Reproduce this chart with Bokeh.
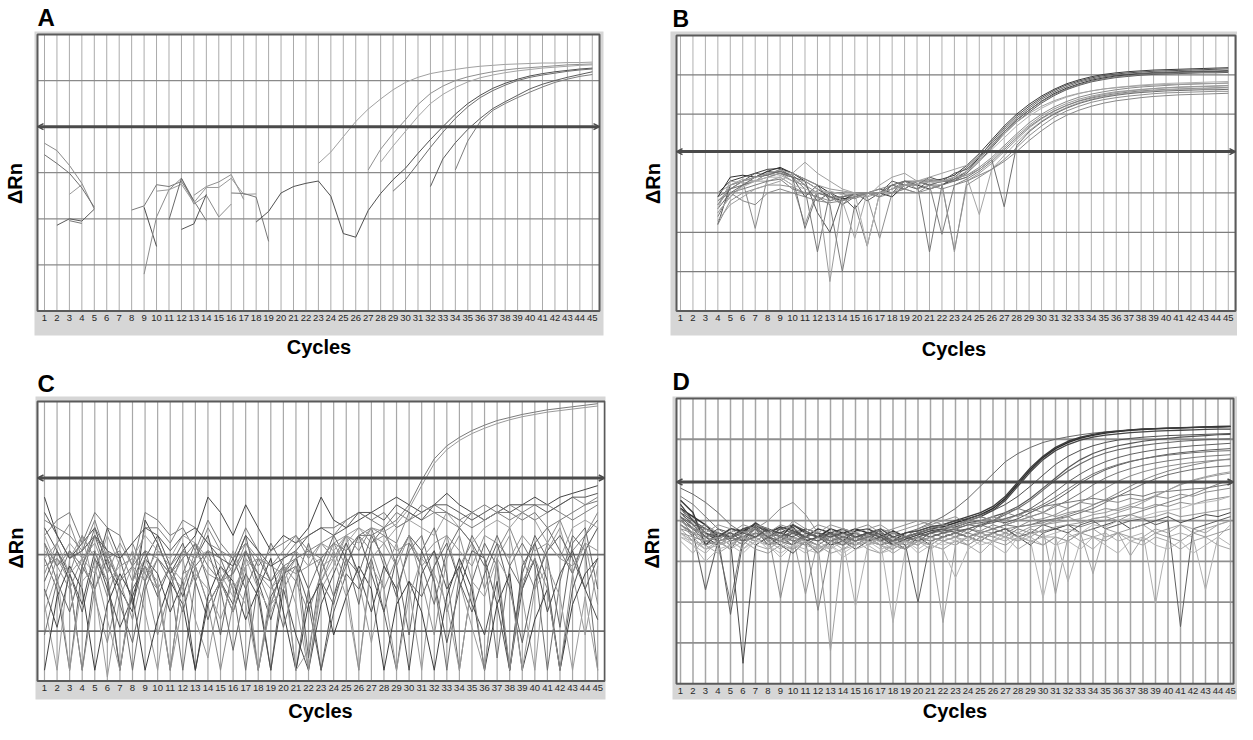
from bokeh.plotting import figure
from bokeh.models import Range1d, LinearAxis, FixedTicker, Arrow, OpenHead, ColumnDataSource
from bokeh.layouts import row, column
from bokeh.embed import file_html
from bokeh.resources import INLINE

FONT = "Liberation Sans"
BAND = "#d6d6d6"

CYCLES = list(range(1, 46))
TICK_LABELS = [str(c) for c in CYCLES]
Y_LABEL = "ΔRn"
X_LABEL = "Cycles"
PANEL_LETTERS = ["A", "B", "C", "D"]

# ---------------- Panel A (y in grid rows) ----------------
A_THRESHOLD = 4.0
A_GRID_ROWS = [1, 2, 3, 5]
A_STARTS = [1, 1, 2, 3, 3, 8, 9, 9, 10, 11, 12, 13, 16, 18, 29, 23, 27, 28, 32, 34]
A1 = [3.64, 3.48, 3.16, 2.77, 2.21]
A2 = [3.39, 3.20, 2.99, 2.67, 2.25]
A3 = [1.86, 2.00, 1.95, 2.21]
A4 = [2.53, 2.74]
A5 = [1.96, 1.90]
A6 = [2.19, 2.28, 2.74, 2.70, 2.81, 2.39, 1.96]
A7 = [2.25, 1.40]
A8 = [0.80, 2.04, 2.63, 2.88, 2.32, 2.51, 2.04, 2.32]
A9 = [2.60, 2.63, 2.75, 2.35, 2.68, 2.68, 2.88, 2.53, 2.54]
A10 = [1.98, 2.88, 2.39]
A11 = [1.77, 1.89, 2.53]
A12 = [2.51, 2.70, 2.80, 2.96, 2.42]
A13 = [2.56, 2.55, 2.47, 1.51]
A14 = [1.93, 2.16, 2.56, 2.70, 2.77, 2.82, 2.49, 1.68, 1.60, 2.18, 2.55, 2.85, 3.10, 3.42,
       3.72, 4.00, 4.27, 4.50, 4.68, 4.83, 4.94, 5.03, 5.10, 5.15, 5.19, 5.22, 5.25, 5.27]
A15 = [2.60, 2.85, 3.20, 3.55, 3.88, 4.18, 4.43, 4.63, 4.78, 4.90, 5.00, 5.07, 5.12, 5.16, 5.20, 5.23, 5.25]
A16 = [3.20, 3.45, 3.78, 4.11, 4.38, 4.60, 4.80, 4.96, 5.07, 5.15, 5.20, 5.24, 5.28, 5.31, 5.33,
       5.35, 5.36, 5.37, 5.38, 5.38, 5.39, 5.39, 5.40]
A17 = [3.06, 3.51, 3.85, 4.15, 4.48, 4.72, 4.88, 5.00, 5.08, 5.14, 5.19, 5.23, 5.26, 5.28, 5.30, 5.32, 5.34, 5.35, 5.36]
A18 = [3.23, 3.58, 3.90, 4.22, 4.50, 4.70, 4.85, 4.97, 5.06, 5.12, 5.17, 5.21, 5.24, 5.27, 5.29, 5.31, 5.33, 5.34]
A19 = [2.70, 3.30, 3.65, 3.94, 4.18, 4.39, 4.54, 4.68, 4.82, 4.92, 5.00, 5.07, 5.13, 5.19]
A20 = [3.06, 3.69, 4.11, 4.35, 4.50, 4.63, 4.75, 4.86, 4.96, 5.03, 5.09, 5.13]
A_CURVES = [A1, A2, A3, A4, A5, A6, A7, A8, A9, A10, A11, A12, A13, A14, A15, A16, A17, A18, A19, A20]
A_COLORS = ["#8a8a8a", "#6f6f6f", "#5a5a5a", "#9a9a9a", "#777777", "#7a7a7a", "#4f4f4f", "#8c8c8c",
            "#999999", "#6a6a6a", "#555555", "#909090", "#777777", "#505050", "#6e6e6e", "#a0a0a0",
            "#8f8f8f", "#a5a5a5", "#5c5c5c", "#7d7d7d"]

# ---------------- Panel B (cycles 4..45) ----------------
B_THRESHOLD = 4.05
B_GRID_ROWS = [1, 2, 3, 5, 6]
B1 = [3.0, 3.3, 3.4, 3.5, 3.6, 3.62, 3.5, 3.3, 3.1, 2.9, 2.8, 3.0, 3.0, 3.0, 3.1, 3.2, 3.3, 3.3, 3.35, 3.45,
      3.7, 4.0, 4.35, 4.7, 5.0, 5.25, 5.46, 5.63, 5.77, 5.87, 5.95, 6.01, 6.05, 6.08, 6.1, 6.12, 6.13, 6.14, 6.15, 6.16, 6.17, 6.18]
B2 = [2.2, 3.2, 3.3, 3.4, 3.55, 3.5, 3.4, 2.9, 3.2, 2.8, 2.9, 2.6, 3.0, 3.1, 3.0, 3.3, 3.2, 3.4, 3.3, 3.5,
      3.6, 3.9, 4.3, 4.65, 4.95, 5.2, 5.42, 5.6, 5.74, 5.84, 5.92, 5.98, 6.02, 6.05, 6.07, 6.09, 6.1, 6.11, 6.12, 6.13, 6.14, 6.15]
B3 = [2.6, 3.0, 3.2, 3.3, 3.5, 3.55, 3.45, 3.2, 2.8, 3.0, 2.7, 2.9, 3.0, 2.9, 3.2, 3.1, 3.3, 3.2, 3.2, 3.4,
      3.65, 3.95, 4.25, 4.6, 4.9, 5.15, 5.38, 5.56, 5.7, 5.81, 5.89, 5.95, 5.99, 6.02, 6.04, 6.06, 6.07, 6.08, 6.09, 6.1, 6.1, 6.11]
B4 = [2.9, 3.4, 3.45, 3.4, 3.55, 3.65, 3.5, 3.35, 3.2, 3.0, 2.85, 2.9, 3.0, 3.0, 2.9, 3.2, 3.2, 3.1, 3.2, 3.35,
      3.55, 3.9, 4.2, 4.55, 4.85, 5.1, 5.33, 5.52, 5.66, 5.77, 5.86, 5.92, 5.97, 6.0, 6.02, 6.04, 6.05, 6.06, 6.07, 6.08, 6.08, 6.09]
B5 = [2.7, 3.1, 3.3, 3.5, 3.45, 3.6, 3.4, 3.3, 2.5, 2.0, 2.9, 3.0, 2.8, 3.0, 3.3, 3.2, 3.1, 3.3, 3.3, 3.3,
      3.5, 3.8, 4.15, 4.5, 4.8, 5.05, 5.28, 5.47, 5.62, 5.73, 5.82, 5.88, 5.93, 5.96, 5.99, 6.01, 6.02, 6.03, 6.04, 6.05, 6.05, 6.06]
B6 = [2.5, 2.9, 3.2, 3.3, 3.4, 3.5, 3.4, 3.1, 1.5, 3.0, 3.0, 2.85, 3.0, 3.0, 3.1, 3.3, 3.25, 1.5, 3.2, 3.3,
      3.55, 3.85, 4.2, 4.55, 4.85, 5.1, 5.32, 5.5, 5.64, 5.75, 5.84, 5.9, 5.95, 5.98, 6.01, 6.03, 6.04, 6.05, 6.06, 6.07, 6.07, 6.08]
B7 = [2.8, 3.1, 3.3, 2.1, 3.4, 3.5, 3.3, 3.2, 3.0, 2.9, 2.7, 3.0, 3.0, 3.1, 3.2, 3.3, 3.1, 3.2, 3.3, 3.35,
      3.45, 3.65, 3.9, 4.2, 4.5, 4.78, 5.0, 5.18, 5.32, 5.43, 5.51, 5.57, 5.62, 5.66, 5.69, 5.71, 5.73, 5.75, 5.76, 5.77, 5.78, 5.79]
B8 = [3.0, 3.2, 3.35, 3.3, 3.3, 3.4, 3.2, 2.2, 3.1, 0.75, 2.8, 2.9, 2.9, 3.0, 3.1, 3.2, 3.2, 3.35, 3.25, 1.5,
      3.3, 3.5, 3.75, 4.05, 4.35, 4.65, 4.88, 5.07, 5.22, 5.34, 5.43, 5.5, 5.55, 5.59, 5.62, 5.65, 5.67, 5.69, 5.7, 5.71, 5.72, 5.73]
B9 = [2.4, 3.0, 3.1, 3.2, 3.3, 3.35, 3.1, 3.0, 2.9, 2.7, 1.0, 2.7, 1.65, 3.0, 3.2, 3.1, 3.3, 3.2, 1.95, 3.2,
      3.35, 3.55, 3.8, 4.1, 4.4, 4.68, 4.9, 5.08, 5.22, 5.33, 5.41, 5.47, 5.52, 5.56, 5.59, 5.61, 5.63, 5.64, 5.65, 5.66, 5.67, 5.68]
B10 = [2.6, 3.3, 3.25, 3.3, 3.5, 3.45, 3.3, 3.3, 3.1, 3.0, 2.8, 1.85, 3.0, 3.0, 3.0, 3.2, 3.2, 3.3, 3.3, 3.3,
       3.4, 2.45, 3.6, 3.95, 4.28, 4.58, 4.82, 5.02, 5.17, 5.29, 5.38, 5.45, 5.5, 5.54, 5.57, 5.6, 5.62, 5.63, 5.64, 5.65, 5.66, 5.67]
B11 = [2.2, 2.8, 3.0, 3.1, 3.2, 3.2, 3.15, 3.0, 2.9, 2.8, 2.9, 3.0, 2.9, 1.85, 3.0, 3.1, 3.0, 3.1, 3.2, 1.55,
       3.2, 3.4, 3.6, 3.85, 4.15, 4.45, 4.7, 4.92, 5.08, 5.2, 5.3, 5.37, 5.42, 5.46, 5.49, 5.52, 5.54, 5.55, 5.56, 5.57, 5.58, 5.58]
B12 = [2.9, 3.1, 3.2, 3.4, 3.45, 3.55, 3.4, 2.1, 3.0, 2.9, 2.9, 2.95, 3.0, 3.0, 3.2, 3.3, 3.3, 3.2, 3.3, 3.3,
       3.4, 3.6, 3.85, 2.65, 4.2, 4.55, 4.8, 5.0, 5.15, 5.27, 5.36, 5.43, 5.48, 5.52, 5.55, 5.57, 5.59, 5.6, 5.61, 5.62, 5.62, 5.63]
B13 = [2.5, 2.9, 3.15, 3.3, 3.4, 3.4, 3.2, 3.1, 3.0, 3.05, 2.95, 3.0, 1.65, 3.0, 3.1, 3.2, 3.3, 3.25, 3.3, 3.4,
       3.55, 3.8, 4.1, 4.4, 4.7, 4.95, 5.15, 5.31, 5.43, 5.52, 5.59, 5.64, 5.68, 5.71, 5.74, 5.76, 5.78, 5.79, 5.8, 5.81, 5.82, 5.83]
B14 = [2.7, 3.2, 3.3, 3.4, 3.5, 3.58, 3.5, 3.35, 3.2, 3.1, 3.05, 3.0, 3.0, 3.0, 3.1, 3.2, 3.3, 3.35, 3.3, 3.4,
       3.45, 3.6, 3.85, 4.15, 4.45, 4.72, 4.95, 5.13, 5.27, 5.38, 5.46, 5.52, 5.57, 5.6, 5.63, 5.65, 5.67, 5.68, 5.69, 5.7, 5.71, 5.72]
B15 = [2.3, 2.7, 2.9, 3.1, 3.2, 3.3, 3.5, 3.78, 3.5, 3.3, 3.1, 3.0, 2.9, 3.2, 3.4, 3.5, 3.3, 3.4, 3.5, 3.6,
       3.7, 3.9, 4.2, 4.5, 4.8, 5.02, 5.2, 5.34, 5.45, 5.53, 5.59, 5.64, 5.67, 5.7, 5.72, 5.74, 5.75, 5.76, 5.77, 5.78, 5.78, 5.79]
B16 = [2.8, 3.0, 2.8, 2.7, 3.0, 3.1, 3.0, 2.9, 2.8, 2.75, 2.8, 2.9, 3.0, 2.9, 3.0, 3.1, 3.0, 3.2, 3.1, 3.2,
       3.3, 3.45, 3.6, 3.8, 4.05, 4.33, 4.58, 4.8, 4.97, 5.1, 5.2, 5.28, 5.34, 5.38, 5.42, 5.45, 5.47, 5.49, 5.5, 5.51, 5.52, 5.53]
B_CURVES = [B1, B2, B3, B4, B5, B6, B7, B8, B9, B10, B11, B12, B13, B14, B15, B16]
B_STARTS = [4] * len(B_CURVES)
B_COLORS = ["#3a3a3a", "#505050", "#666666", "#2e2e2e", "#5a5a5a", "#777777", "#8a8a8a", "#9a9a9a",
            "#7d7d7d", "#a5a5a5", "#8f8f8f", "#6e6e6e", "#b0b0b0", "#999999", "#a0a0a0", "#888888"]

# ---------------- Panel C (cycles 1..45) ----------------
C_THRESHOLD = 2.65
C_GRID_ROWS = [0.65, 1.65]
C1 = [2.4, 1.9, 1.6, 1.8, 2.0, 1.5, 1.2, 0.9, 2.1, 1.8, 1.4, 1.7, 1.9, 2.4, 2.2, 1.9, 2.3, 2.0, 1.7, 1.9, 1.8, 2.0, 2.4,
      2.1, 2.0, 2.1, 2.2, 2.3, 2.4, 2.3, 2.2, 2.3, 2.45, 2.3, 2.2, 2.1, 2.2, 2.3, 2.3, 2.4, 2.3, 2.4, 2.45, 2.5, 2.55]
C2 = [1.9, 2.1, 2.2, 1.8, 2.2, 2.0, 1.9, 1.5, 2.2, 2.1, 1.9, 2.0, 1.7, 2.1, 1.8, 1.6, 2.0, 1.7, 1.3, 1.6, 1.8, 1.9, 2.0,
      2.0, 2.1, 2.2, 2.1, 2.0, 2.2, 2.1, 2.2, 2.3, 2.2, 2.1, 2.0, 2.1, 2.2, 2.2, 2.1, 2.2, 2.0, 2.1, 2.2, 2.3, 2.35]
C3 = [1.6, 1.2, 0.14, 1.5, 1.9, 1.4, 0.14, 1.3, 1.7, 1.2, 0.14, 1.4, 1.8, 1.3, 0.6, 1.5, 1.9, 1.2, 0.14, 1.4, 1.7, 0.3, 1.5,
      1.9, 1.6, 1.0, 1.8, 2.0, 1.5, 0.6, 1.7, 2.0, 1.4, 0.14, 1.3, 1.8, 1.5, 0.14, 1.4, 1.9, 1.6, 0.7, 1.8, 2.0, 1.2]
C4 = [1.0, 0.14, 1.6, 1.9, 1.2, 0.05, 1.1, 1.5, 0.9, 0.14, 1.3, 1.6, 0.8, 0.3, 1.2, 1.7, 1.3, 0.14, 1.0, 1.5, 1.0, 0.14, 1.2,
      1.5, 1.9, 1.3, 0.5, 1.4, 1.8, 1.2, 0.14, 1.5, 1.9, 1.3, 0.7, 0.14, 1.6, 1.9, 1.1, 0.14, 1.7, 2.0, 1.4, 0.6, 1.5]
C5 = [2.0, 1.7, 1.3, 0.14, 1.4, 2.0, 1.6, 1.0, 1.6, 1.9, 1.5, 1.1, 1.6, 1.9, 1.3, 1.0, 1.7, 1.3, 0.8, 1.4, 1.6, 1.2, 0.14,
      1.1, 1.7, 1.9, 1.4, 0.9, 1.6, 1.9, 1.7, 1.3, 0.5, 1.2, 1.7, 1.6, 1.0, 0.14, 1.5, 1.8, 1.3, 0.14, 1.2, 1.7, 2.0]
C6 = [1.4, 1.8, 2.05, 1.6, 1.1, 0.5, 1.3, 1.7, 1.3, 0.6, 1.2, 1.7, 1.5, 1.0, 0.14, 1.0, 1.6, 1.4, 1.0, 1.5, 1.3, 0.9, 1.4,
      1.8, 1.5, 1.9, 1.7, 1.2, 1.6, 1.9, 1.5, 1.7, 0.9, 1.5, 1.8, 1.2, 1.7, 2.0, 1.6, 1.2, 1.8, 2.1, 1.7, 1.9, 2.2]
C7 = [0.6, 1.3, 1.7, 1.5, 2.0, 1.7, 1.2, 0.14, 1.2, 1.6, 1.3, 0.14, 1.3, 1.7, 1.6, 1.2, 0.14, 1.3, 1.8, 1.5, 0.14, 1.2, 1.6,
      1.1, 1.5, 1.9, 2.0, 1.5, 1.2, 1.7, 1.9, 1.3, 0.14, 1.4, 1.9, 1.6, 0.3, 1.5, 1.8, 1.5, 0.14, 1.3, 1.9, 1.7, 0.14]
C8 = [1.9, 1.5, 1.8, 1.6, 1.4, 1.9, 1.5, 1.6, 1.9, 1.7, 1.6, 1.9, 1.8, 1.6, 1.4, 1.1, 1.6, 1.2, 0.9, 1.3, 1.6, 1.7, 1.5,
      1.6, 1.8, 2.0, 1.9, 1.8, 2.0, 2.1, 2.0, 1.9, 2.2, 2.0, 1.8, 2.0, 2.1, 2.0, 2.2, 2.1, 1.8, 1.6, 2.0, 2.1, 2.0]
C9 = [1.2, 0.7, 1.4, 1.0, 1.7, 1.2, 0.7, 1.1, 1.6, 1.4, 0.9, 1.3, 0.14, 1.0, 1.3, 0.9, 1.4, 1.1, 0.14, 1.2, 0.6, 0.14, 1.0,
      1.4, 1.8, 1.4, 0.9, 1.5, 1.2, 0.14, 1.4, 1.7, 1.2, 1.5, 1.0, 0.6, 1.3, 0.14, 1.2, 1.6, 0.9, 1.4, 1.7, 1.2, 0.8]
C10 = [2.1, 2.0, 1.9, 1.7, 2.1, 1.6, 1.7, 1.3, 2.0, 2.0, 1.8, 2.1, 2.0, 1.8, 1.7, 1.6, 1.8, 1.5, 1.7, 1.8, 1.9, 1.7, 1.8,
       1.9, 2.1, 2.2, 2.1, 2.2, 2.0, 2.1, 2.3, 2.2, 2.2, 2.1, 2.2, 2.3, 2.2, 2.1, 2.2, 2.3, 2.3, 2.2, 2.1, 2.2, 2.3]
C11 = [1.3, 1.7, 1.4, 0.9, 1.6, 1.3, 0.14, 1.2, 1.5, 1.1, 1.5, 1.8, 1.3, 0.8, 1.3, 1.6, 1.2, 0.14, 1.1, 1.4, 1.5, 1.0, 0.14,
       0.9, 1.4, 1.2, 1.6, 0.9, 0.14, 1.3, 1.1, 1.5, 1.8, 1.3, 0.9, 1.4, 1.8, 1.2, 0.5, 1.3, 1.7, 1.9, 1.6, 1.2, 1.6]
C12 = [1.7, 1.5, 1.2, 1.6, 1.8, 1.4, 1.8, 1.5, 1.3, 1.6, 1.4, 1.2, 1.7, 1.4, 1.3, 1.5, 1.7, 1.4, 1.2, 1.5, 1.4, 1.5, 1.6,
       1.8, 1.9, 2.0, 1.8, 1.9, 1.7, 1.8, 1.6, 1.8, 1.9, 1.7, 1.5, 1.9, 1.8, 1.6, 1.9, 1.7, 1.8, 1.6, 1.5, 1.8, 1.7]
C13 = [0.14, 1.1, 1.5, 1.2, 0.14, 1.0, 1.4, 1.1, 0.14, 0.8, 1.3, 1.0, 0.14, 1.1, 1.5, 1.3, 0.8, 1.2, 1.6, 0.9, 0.14, 1.0, 1.3,
       0.6, 1.1, 1.5, 1.2, 0.14, 1.0, 1.3, 0.9, 0.14, 1.1, 1.6, 1.2, 0.14, 1.0, 1.4, 0.14, 0.8, 1.2, 0.14, 1.0, 1.4, 1.6]
C14 = [1.5, 1.6, 1.4, 1.9, 1.6, 1.1, 1.6, 1.8, 1.4, 1.2, 1.5, 1.7, 1.6, 2.0, 1.7, 1.4, 1.8, 1.6, 1.5, 1.7, 1.9, 1.6, 1.8,
       1.6, 1.9, 1.7, 2.0, 1.9, 1.8, 2.2, 2.1, 2.2, 2.1, 2.0, 2.2, 2.1, 2.2, 2.3, 2.2, 2.1, 2.2, 2.3, 2.4, 2.3, 2.4]
C15 = [1.8, 1.3, 0.9, 1.5, 1.2, 1.6, 1.0, 0.5, 1.3, 1.8, 1.4, 0.9, 1.5, 1.7, 1.2, 0.4, 1.2, 1.6, 1.3, 0.7, 1.3, 1.8, 1.3,
       1.0, 1.6, 1.4, 1.9, 1.6, 1.1, 1.8, 1.5, 1.0, 1.7, 2.0, 1.8, 1.5, 1.9, 1.5, 1.2, 1.8, 2.0, 1.7, 1.4, 1.9, 2.1]
C16 = [0.9, 1.4, 0.14, 1.3, 1.5, 0.8, 0.14, 1.3, 1.6, 1.2, 0.14, 1.0, 1.4, 1.2, 0.8, 1.3, 1.0, 0.14, 1.2, 1.4, 0.14, 0.4, 1.3,
       1.6, 1.1, 0.14, 1.5, 1.2, 0.14, 1.1, 1.6, 1.4, 1.0, 0.14, 1.3, 1.1, 1.6, 1.3, 0.14, 1.2, 1.5, 1.1, 0.14, 1.1, 0.14]
C17 = [2.2, 1.9, 1.6, 1.7, 1.9, 1.7, 1.6, 1.8, 2.0, 1.9, 1.7, 1.9, 2.0, 1.8, 1.6, 1.5, 1.9, 1.7, 1.5, 1.6, 1.7, 1.9, 2.0,
       1.9, 2.0, 2.2, 2.2, 2.1, 2.3, 2.2, 2.1, 2.3, 2.3, 2.2, 2.1, 2.2, 2.3, 2.2, 2.3, 2.3, 2.2, 2.3, 2.4, 2.4, 2.45]
C18 = [1.1, 1.6, 1.3, 0.14, 1.2, 1.7, 1.3, 0.8, 1.5, 1.3, 0.14, 1.4, 1.5, 1.0, 1.3, 0.9, 1.5, 0.14, 1.0, 1.2, 1.5, 0.14, 1.3,
       1.7, 1.3, 0.14, 1.6, 1.8, 1.5, 1.9, 1.3, 0.6, 1.6, 1.9, 1.3, 0.14, 1.6, 0.14, 1.3, 1.6, 1.2, 0.14, 1.4, 1.8, 1.0]
C19 = [1.8, 1.5, 1.7, 1.4, 1.9, 1.6, 1.3, 1.5, 1.7, 1.6, 1.4, 1.6, 1.8, 1.5, 1.3, 1.4, 1.7, 1.4, 1.3, 1.5, 1.6, 1.7, 1.6,
       1.8, 1.7, 1.9, 1.9, 2.0, 2.1, 2.3, 2.62, 2.9, 3.07, 3.18, 3.27, 3.34, 3.4, 3.44, 3.48, 3.51, 3.54, 3.56, 3.58, 3.6, 3.62]
C20 = [1.6, 1.8, 1.4, 1.6, 1.7, 1.3, 1.5, 1.6, 1.4, 1.7, 1.5, 1.3, 1.6, 1.7, 1.5, 1.2, 1.5, 1.6, 1.5, 1.4, 1.7, 1.5, 1.8,
       1.7, 1.9, 1.8, 2.0, 1.95, 2.05, 2.25, 2.55, 2.84, 3.02, 3.14, 3.23, 3.3, 3.36, 3.41, 3.45, 3.48, 3.51, 3.53, 3.55, 3.57, 3.59]
C_CURVES = [C1, C2, C3, C4, C5, C6, C7, C8, C9, C10, C11, C12, C13, C14, C15, C16, C17, C18, C19, C20]
C_STARTS = [1] * len(C_CURVES)
C_COLORS = ["#444444", "#7a7a7a", "#666666", "#9a9a9a", "#555555", "#8a8a8a", "#707070", "#a0a0a0",
            "#4d4d4d", "#808080", "#5f5f5f", "#939393", "#3d3d3d", "#868686", "#6b6b6b", "#9c9c9c",
            "#575757", "#8f8f8f", "#7a7a7a", "#9a9a9a"]

# ---------------- Panel D (cycles 1..45) ----------------
D_THRESHOLD = 4.95
D_GRID_ROWS = [1, 2, 3, 4, 6]
D1 = [4.8, 4.65, 4.45, 4.2, 3.9, 3.7, 3.85, 3.75, 3.8, 3.7, 3.8, 3.7, 3.65, 3.7, 3.6, 3.65, 3.7, 3.6, 3.7, 3.8, 3.95, 4.1, 4.3,
      4.55, 4.85, 5.15, 5.45, 5.65, 5.8, 5.92, 6.0, 6.06, 6.11, 6.15, 6.18, 6.21, 6.23, 6.25, 6.26, 6.27, 6.28, 6.29, 6.3, 6.3, 6.31]
D2 = [4.3, 4.1, 3.9, 3.6, 3.8, 3.75, 3.9, 3.8, 3.6, 3.9, 3.7, 3.6, 3.8, 3.7, 3.8, 3.7, 3.6, 3.75, 3.6, 3.7, 3.8, 3.85, 3.95,
      4.05, 4.15, 4.3, 4.55, 4.9, 5.25, 5.55, 5.77, 5.92, 6.03, 6.1, 6.15, 6.19, 6.22, 6.24, 6.26, 6.27, 6.28, 6.29, 6.3, 6.31, 6.32]
D3 = [4.5, 4.2, 3.4, 3.7, 3.6, 3.8, 3.9, 3.7, 3.85, 3.75, 3.6, 3.8, 3.7, 3.5, 3.75, 3.8, 3.65, 3.5, 3.7, 3.75, 3.85, 3.9, 4.0,
      4.1, 4.2, 4.35, 4.6, 4.95, 5.3, 5.58, 5.8, 5.95, 6.05, 6.12, 6.17, 6.2, 6.23, 6.25, 6.26, 6.27, 6.28, 6.29, 6.3, 6.3, 6.31]
D4 = [4.0, 3.8, 3.7, 3.5, 3.6, 3.7, 3.95, 3.75, 3.7, 3.85, 3.5, 3.6, 3.7, 3.8, 3.6, 3.7, 3.75, 3.4, 3.55, 3.65, 3.75, 3.8, 3.9,
      4.0, 4.1, 4.25, 4.5, 4.85, 5.2, 5.5, 5.72, 5.87, 5.98, 6.05, 6.1, 6.13, 6.16, 6.18, 6.2, 6.21, 6.22, 6.23, 6.24, 6.25, 6.25]
D5 = [4.4, 4.0, 3.8, 3.7, 3.55, 3.8, 3.85, 3.6, 3.8, 3.9, 3.75, 3.6, 3.6, 3.8, 3.7, 3.5, 3.8, 3.6, 3.5, 3.6, 3.7, 3.8, 3.85,
      3.95, 4.0, 4.1, 4.2, 4.35, 4.55, 4.8, 5.05, 5.3, 5.5, 5.65, 5.76, 5.84, 5.9, 5.95, 5.99, 6.02, 6.05, 6.07, 6.09, 6.11, 6.12]
D6 = [3.9, 3.7, 2.3, 3.5, 3.3, 3.7, 3.8, 3.4, 3.6, 3.7, 3.5, 3.2, 3.5, 3.6, 3.4, 3.6, 3.7, 3.5, 3.3, 3.6, 3.7, 3.75, 3.8,
      3.9, 3.95, 4.0, 4.15, 4.3, 4.5, 4.75, 5.0, 5.22, 5.4, 5.55, 5.66, 5.74, 5.8, 5.85, 5.89, 5.92, 5.95, 5.97, 5.99, 6.0, 6.01]
D7 = [4.2, 3.9, 3.6, 3.8, 3.7, 3.5, 3.9, 3.7, 3.5, 3.8, 3.6, 3.7, 3.4, 3.6, 3.7, 3.6, 3.5, 3.7, 3.6, 3.5, 3.7, 3.8, 3.7,
      3.8, 3.9, 4.0, 3.95, 4.05, 4.2, 4.35, 4.5, 4.7, 4.92, 5.1, 5.25, 5.36, 5.45, 5.52, 5.58, 5.63, 5.67, 5.7, 5.73, 5.75, 5.77]
D8 = [4.1, 3.6, 3.5, 3.4, 2.0, 3.6, 3.7, 3.55, 3.7, 3.6, 3.4, 3.6, 3.5, 3.7, 3.5, 3.6, 3.4, 3.5, 3.6, 3.7, 3.6, 3.7, 3.8,
      3.7, 3.9, 3.8, 3.9, 4.0, 4.1, 4.2, 4.35, 4.5, 4.68, 4.88, 5.05, 5.18, 5.28, 5.36, 5.42, 5.47, 5.51, 5.55, 5.58, 5.6, 5.62]
D9 = [3.8, 3.7, 3.6, 3.4, 3.6, 3.75, 3.6, 3.7, 2.1, 3.5, 3.6, 3.7, 3.6, 3.4, 3.7, 3.5, 3.6, 3.7, 3.5, 3.4, 3.6, 3.7, 3.6,
      3.8, 3.75, 3.9, 3.8, 3.85, 4.0, 4.05, 4.15, 4.3, 4.45, 4.62, 4.8, 4.97, 5.1, 5.2, 5.28, 5.34, 5.39, 5.43, 5.46, 5.49, 5.5]
D10 = [4.3, 4.0, 3.7, 3.55, 3.7, 3.6, 3.5, 3.7, 3.6, 3.75, 3.55, 3.4, 3.6, 3.7, 3.5, 3.6, 3.55, 3.5, 3.6, 3.5, 3.7, 3.6, 3.7,
       3.8, 3.7, 3.8, 3.9, 3.85, 3.9, 4.0, 4.05, 4.1, 4.2, 4.3, 4.45, 4.6, 4.75, 4.9, 5.03, 5.13, 5.2, 5.26, 5.3, 5.33, 5.35]
D11 = [3.7, 3.6, 3.5, 3.6, 3.4, 3.7, 3.8, 3.5, 3.4, 3.6, 2.2, 3.5, 3.6, 3.5, 3.6, 3.4, 3.6, 3.5, 3.4, 3.6, 3.5, 3.6, 3.7,
       3.6, 3.75, 3.7, 3.8, 3.7, 3.85, 3.9, 3.95, 4.0, 4.05, 4.15, 4.2, 4.3, 4.4, 4.5, 4.62, 4.75, 4.88, 4.98, 5.06, 5.12, 5.17]
D12 = [4.0, 3.8, 3.6, 3.5, 3.6, 3.5, 3.6, 3.4, 3.5, 3.6, 3.5, 1.8, 3.4, 3.5, 3.6, 3.5, 3.6, 3.4, 3.3, 3.5, 3.6, 3.5, 3.6,
       3.7, 3.6, 3.7, 3.6, 3.8, 3.7, 3.75, 3.8, 3.9, 3.85, 3.95, 4.0, 4.1, 4.15, 4.25, 4.35, 4.45, 4.55, 4.65, 4.78, 4.9, 5.0]
D13 = [4.4, 4.0, 3.6, 3.4, 3.5, 0.5, 3.4, 3.6, 3.4, 3.2, 3.5, 3.6, 3.4, 3.5, 3.3, 3.5, 3.6, 3.4, 3.5, 3.6, 3.4, 3.6, 3.7,
       3.6, 3.5, 3.7, 3.8, 3.6, 3.4, 3.7, 3.8, 3.9, 3.7, 3.8, 3.9, 4.0, 3.8, 3.9, 4.0, 4.1, 3.95, 4.05, 4.15, 4.1, 4.2]
D14 = [3.9, 3.6, 3.3, 3.5, 3.6, 3.4, 3.7, 3.5, 3.3, 3.6, 3.5, 3.4, 0.8, 3.4, 3.5, 3.6, 3.4, 3.2, 3.4, 3.6, 3.5, 1.5, 3.4,
       3.6, 3.7, 3.6, 3.5, 3.7, 3.6, 3.8, 2.2, 3.6, 3.7, 3.8, 3.6, 3.7, 3.8, 3.9, 3.7, 3.8, 3.9, 3.7, 3.8, 3.9, 4.0]
D15 = [3.6, 3.4, 3.2, 3.5, 3.3, 3.5, 3.6, 3.3, 3.5, 3.4, 3.2, 3.4, 3.3, 3.5, 1.9, 3.4, 3.5, 1.5, 3.3, 3.5, 3.4, 3.6, 3.5,
       3.4, 3.6, 3.5, 3.7, 3.5, 3.6, 3.4, 3.6, 2.5, 3.5, 3.6, 3.7, 3.5, 3.6, 3.7, 1.95, 3.6, 3.7, 3.6, 2.3, 3.6, 3.9]
D16 = [4.2, 3.8, 3.9, 3.7, 3.5, 3.6, 3.8, 4.0, 4.3, 4.45, 4.15, 3.7, 3.6, 3.8, 3.7, 3.6, 3.8, 3.7, 3.6, 3.8, 3.9, 3.8, 3.9,
       4.0, 4.1, 4.0, 4.2, 4.1, 4.3, 4.2, 4.4, 4.3, 4.45, 4.4, 4.5, 4.45, 4.55, 4.5, 4.6, 4.55, 4.65, 4.6, 4.7, 4.75, 4.8]
D17 = [3.5, 3.2, 3.6, 3.7, 3.5, 3.3, 3.6, 3.7, 3.5, 3.3, 3.6, 3.5, 3.3, 3.7, 3.6, 3.4, 3.7, 3.5, 3.4, 3.5, 3.3, 3.5, 3.6,
       3.4, 3.2, 3.5, 3.6, 3.3, 3.5, 3.6, 3.4, 3.7, 3.5, 3.3, 3.6, 3.7, 3.5, 3.4, 3.6, 3.5, 3.3, 3.5, 3.6, 3.4, 3.3]
D18 = [4.1, 3.9, 3.8, 3.6, 1.7, 3.5, 3.6, 3.8, 3.6, 3.4, 3.7, 3.6, 3.5, 3.4, 3.6, 3.7, 3.5, 3.6, 3.4, 2.0, 3.5, 3.6, 3.7,
       3.6, 3.5, 3.7, 3.8, 3.6, 3.7, 3.9, 3.8, 3.7, 3.9, 4.0, 3.8, 3.9, 4.0, 4.05, 3.9, 4.0, 1.4, 3.8, 3.9, 4.0, 4.1]
D19 = [3.8, 3.5, 3.3, 3.4, 3.6, 3.5, 3.3, 3.2, 3.4, 3.3, 3.5, 3.4, 3.2, 3.3, 3.5, 3.3, 3.2, 3.4, 3.3, 3.5, 3.4, 3.3, 3.5,
       3.4, 3.6, 3.5, 3.4, 3.6, 3.5, 3.4, 3.6, 3.5, 3.7, 3.6, 3.5, 3.7, 3.6, 3.5, 3.7, 3.6, 3.5, 3.7, 3.6, 3.7, 3.8]
D20 = [4.6, 4.4, 4.1, 3.8, 3.6, 3.5, 3.7, 3.6, 3.5, 3.4, 3.6, 3.5, 3.7, 3.5, 3.4, 3.6, 3.5, 3.4, 3.6, 3.7, 3.8, 3.9, 3.8,
       4.0, 4.1, 4.0, 4.2, 4.3, 4.2, 4.35, 4.4, 4.45, 4.5, 4.55, 4.5, 4.6, 4.65, 4.6, 4.7, 4.72, 4.75, 4.78, 4.8, 4.85, 4.9]
D21 = [3.7, 3.4, 3.0, 3.3, 3.4, 3.2, 3.5, 3.4, 3.1, 3.4, 3.3, 3.2, 3.4, 3.1, 3.3, 3.4, 3.2, 3.3, 3.5, 3.2, 3.4, 3.3, 2.6,
       3.3, 3.5, 3.4, 3.2, 3.6, 3.5, 2.1, 3.4, 3.5, 3.3, 3.6, 3.4, 3.2, 3.5, 3.6, 3.4, 3.3, 3.5, 3.2, 3.4, 3.6, 3.4]
D22 = [3.9, 3.7, 3.8, 3.6, 3.7, 3.9, 3.8, 3.7, 3.9, 3.8, 3.7, 3.9, 3.8, 3.6, 3.8, 3.9, 3.7, 3.8, 3.9, 4.0, 3.9, 4.0, 4.1,
       3.9, 4.0, 4.1, 4.0, 4.15, 4.1, 4.2, 4.1, 4.2, 4.25, 4.2, 4.3, 4.25, 4.35, 4.3, 4.4, 4.35, 4.45, 4.4, 4.5, 4.55, 4.6]
D23 = [4.1, 3.8, 3.5, 3.6, 3.7, 3.5, 3.8, 3.6, 3.5, 3.7, 3.6, 3.5, 3.7, 3.6, 3.5, 3.7, 3.6, 3.5, 3.6, 3.7, 3.6, 3.7, 3.75,
       3.8, 3.9, 3.95, 4.05, 4.15, 4.3, 4.5, 4.72, 4.95, 5.15, 5.32, 5.45, 5.55, 5.63, 5.69, 5.74, 5.78, 5.81, 5.84, 5.86, 5.88, 5.9]
D24 = [3.9, 3.7, 3.4, 3.5, 3.6, 3.4, 3.7, 3.5, 3.6, 3.5, 3.4, 3.6, 3.5, 3.4, 3.6, 3.5, 3.4, 3.6, 3.5, 3.6, 3.5, 3.6, 3.7,
       3.6, 3.7, 3.8, 3.7, 3.85, 3.9, 3.95, 4.05, 4.15, 4.25, 4.38, 4.52, 4.68, 4.85, 5.0, 5.12, 5.22, 5.3, 5.37, 5.43, 5.48, 5.52]
D25 = [4.0, 3.7, 3.5, 3.6, 3.4, 3.6, 3.5, 3.7, 3.5, 3.6, 3.5, 3.3, 3.5, 3.6, 3.4, 3.6, 3.5, 3.3, 3.5, 3.4, 3.6, 3.5, 3.6,
       3.5, 3.7, 3.6, 3.7, 3.6, 3.8, 3.7, 3.85, 3.9, 3.95, 4.05, 4.1, 4.2, 4.3, 4.45, 4.6, 4.75, 4.9, 5.0, 5.08, 5.15, 5.2]
D26 = [3.6, 3.5, 3.3, 3.4, 3.5, 3.3, 3.5, 3.4, 3.2, 3.4, 3.5, 3.3, 3.4, 3.2, 3.4, 3.5, 3.3, 3.4, 3.5, 3.3, 3.5, 3.4, 3.5,
       3.6, 3.4, 3.5, 3.6, 3.5, 3.7, 3.6, 3.7, 3.8, 3.7, 3.9, 3.85, 4.0, 4.05, 4.1, 4.2, 4.25, 4.3, 4.4, 4.45, 4.5, 4.6]
D27 = [4.3, 3.9, 3.6, 3.7, 3.5, 3.6, 3.8, 3.6, 3.7, 3.5, 3.6, 3.7, 3.5, 3.6, 3.5, 3.6, 3.7, 3.5, 3.6, 3.7, 3.8, 3.7, 3.8,
       3.9, 3.85, 4.0, 4.05, 4.15, 4.25, 4.4, 4.58, 4.78, 4.98, 5.15, 5.28, 5.38, 5.46, 5.52, 5.57, 5.61, 5.64, 5.67, 5.69, 5.71, 5.72]
D28 = [3.7, 3.5, 3.4, 3.2, 3.4, 3.6, 3.4, 3.3, 3.5, 3.6, 3.4, 3.3, 3.5, 3.3, 3.4, 3.5, 3.4, 3.3, 3.5, 3.4, 3.6, 3.5, 3.4,
       3.6, 3.5, 3.7, 3.6, 3.5, 3.7, 3.6, 3.6, 3.5, 3.7, 2.7, 3.8, 3.7, 3.14, 3.6, 3.8, 3.7, 3.9, 3.8, 3.7, 3.9, 4.0]
D29 = [4.2, 4.0, 3.7, 3.6, 3.8, 3.7, 3.6, 3.8, 3.7, 3.6, 3.8, 3.7, 3.6, 3.7, 3.6, 3.7, 3.8, 3.6, 3.7, 3.75, 3.85, 3.9, 4.0,
       4.05, 4.15, 4.25, 4.4, 4.6, 4.85, 5.12, 5.38, 5.58, 5.73, 5.84, 5.92, 5.98, 6.02, 6.05, 6.07, 6.09, 6.1, 6.11, 6.12, 6.13, 6.14]
D30 = [4.0, 3.8, 3.7, 3.9, 3.8, 3.6, 3.9, 3.8, 3.6, 4.0, 3.8, 3.7, 3.9, 3.8, 3.7, 3.8, 3.9, 3.7, 3.8, 3.9, 4.0, 3.9, 3.8,
       4.0, 3.9, 4.1, 3.9, 4.0, 4.1, 3.9, 4.0, 4.1, 3.95, 4.05, 4.1, 4.0, 4.15, 4.05, 4.1, 4.2, 4.1, 4.15, 4.2, 4.25, 4.3]
D_CURVES = [D1, D2, D3, D4, D5, D6, D7, D8, D9, D10, D11, D12, D13, D14, D15, D16, D17, D18, D19, D20,
            D21, D22, D23, D24, D25, D26, D27, D28, D29, D30]
D_STARTS = [1] * len(D_CURVES)
D_COLORS = ["#6a6a6a", "#2f2f2f", "#3a3a3a", "#444444", "#555555", "#666666", "#5a5a5a", "#777777",
            "#8a8a8a", "#6e6e6e", "#999999", "#808080", "#4a4a4a", "#a0a0a0", "#b0b0b0", "#8c8c8c",
            "#a8a8a8", "#5f5f5f", "#9a9a9a", "#777777", "#b5b5b5", "#909090", "#606060", "#858585",
            "#9e9e9e", "#b8b8b8", "#707070", "#a3a3a3", "#4f4f4f", "#959595"]
D_WIDTHS = [1.0, 1.5, 1.4, 1.3, 1.2, 1.1] + [1.0] * 24


def make_panel(letter, cfg, starts, curves, colors, widths, threshold, grid_rows):
    p = figure(width=cfg["w"], height=cfg["h"],
               x_range=Range1d(cfg["bx0"], cfg["bx1"]), y_range=Range1d(cfg["by0"], cfg["by1"]),
               x_axis_location=None, y_axis_location=None, toolbar_location=None,
               output_backend="svg", title=letter,
               min_border_left=cfg["ml"], min_border_right=cfg["mr"],
               min_border_top=cfg["mt"], min_border_bottom=cfg["mb"],
               background_fill_color=BAND, border_fill_color="white")
    p.outline_line_color = None
    p.center = []

    p.title.text_font = FONT
    p.title.text_font_size = cfg["tsize"]
    p.title.text_font_style = "bold"
    p.title.text_color = "black"
    p.title.align = "left"
    p.title.offset = cfg["toff"]
    p.title.standoff = cfg["tstand"]

    x0, x1, ymax = cfg["x0"], cfg["x1"], cfg["ymax"]

    # white data area
    p.quad(left=[x0], right=[x1], bottom=[0], top=[ymax], fill_color="white", line_color=None)
    # grid lines at every cycle and every row
    p.segment(x0=CYCLES, y0=0, x1=CYCLES, y1=ymax, line_color=cfg["vcol"], line_width=cfg["vw"])
    p.segment(x0=x0, y0=grid_rows, x1=x1, y1=grid_rows, line_color=cfg["hcol"], line_width=cfg["hw"])

    xs = [list(range(s, s + len(v))) for s, v in zip(starts, curves)]
    src = ColumnDataSource(dict(xs=xs, ys=curves, color=colors, width=widths))
    p.multi_line(xs="xs", ys="ys", line_color="color", line_width="width", source=src)

    # frame border
    p.quad(left=[x0], right=[x1], bottom=[0], top=[ymax], fill_color=None,
           line_color="#5a5a5a", line_width=2)

    thr = "#4a4a4a"
    p.add_layout(Arrow(x_start=x0, x_end=x1, y_start=threshold, y_end=threshold,
                       line_color=thr, line_width=3,
                       start=OpenHead(size=6, line_color=thr, line_width=1.5),
                       end=OpenHead(size=6, line_color=thr, line_width=1.5)))

    # cycle numbers inside the grey band
    ticks = LinearAxis(fixed_location=0, ticker=FixedTicker(ticks=CYCLES),
                       major_label_overrides={c: t for c, t in zip(CYCLES, TICK_LABELS)},
                       major_tick_out=0, major_tick_in=0, minor_tick_out=0, minor_tick_in=0,
                       axis_line_color=None, major_label_standoff=4,
                       major_label_text_font=FONT, major_label_text_font_size="9.5px",
                       major_label_text_color="#262626")
    p.add_layout(ticks, "below")

    xlab = LinearAxis(ticker=FixedTicker(ticks=[]), major_tick_out=0, major_tick_in=0,
                      minor_tick_out=0, minor_tick_in=0, axis_line_color=None,
                      major_label_standoff=0, axis_label=X_LABEL,
                      axis_label_standoff=cfg["xstand"], axis_label_text_font=FONT,
                      axis_label_text_font_size="20px", axis_label_text_font_style="bold",
                      axis_label_text_color="black")
    p.add_layout(xlab, "below")

    ylab = LinearAxis(ticker=FixedTicker(ticks=[]), major_tick_out=0, major_tick_in=0,
                      minor_tick_out=0, minor_tick_in=0, axis_line_color=None,
                      major_label_standoff=0, axis_label=Y_LABEL,
                      axis_label_standoff=cfg["ystand"], axis_label_text_font=FONT,
                      axis_label_text_font_size="20px", axis_label_text_font_style="bold",
                      axis_label_text_color="black")
    p.add_layout(ylab, "left")
    return p


CFG_A = dict(w=632, h=362, bx0=0.197, bx1=45.90, by0=-0.532, by1=6.064, x0=0.438, x1=45.58, ymax=6,
             ml=34, mr=29, mt=30, mb=22, toff=3, tstand=2, tsize="24px", ystand=9, xstand=0,
             vcol="#ababab", vw=1, hcol="#8a8a8a", hw=1.2)
CFG_B = dict(w=605, h=362, bx0=0.197, bx1=45.74, by0=-0.62, by1=7.099, x0=0.68, x1=45.58, ymax=7,
             ml=38, mr=0, mt=27, mb=24, toff=2, tstand=0, tsize="23px", ystand=7, xstand=2,
             vcol="#b0b0b0", vw=1, hcol="#7d7d7d", hw=1.2)
CFG_C = dict(w=632, h=362, bx0=0.285, bx1=45.62, by0=-0.242, by1=3.714, x0=0.444, x1=45.56, ymax=3.65,
             ml=35, mr=27, mt=29, mb=22, toff=2, tstand=0, tsize="24px", ystand=9, xstand=0,
             vcol="#a8a8a8", vw=1.2, hcol="#6e6e6e", hw=1.8)
CFG_D = dict(w=605, h=362, bx0=0.36, bx1=45.56, by0=-0.389, by1=7.049, x0=0.68, x1=45.24, ymax=7,
             ml=40, mr=0, mt=34, mb=22, toff=0, tstand=4, tsize="24px", ystand=10, xstand=0,
             vcol="#a6a6a6", vw=1.5, hcol="#8f8f8f", hw=1.8)

pA = make_panel(PANEL_LETTERS[0], CFG_A, A_STARTS, A_CURVES, A_COLORS, [1.0] * len(A_CURVES), A_THRESHOLD, A_GRID_ROWS)
pB = make_panel(PANEL_LETTERS[1], CFG_B, B_STARTS, B_CURVES, B_COLORS, [1.0] * len(B_CURVES), B_THRESHOLD, B_GRID_ROWS)
pC = make_panel(PANEL_LETTERS[2], CFG_C, C_STARTS, C_CURVES, C_COLORS, [1.0] * len(C_CURVES), C_THRESHOLD, C_GRID_ROWS)
pD = make_panel(PANEL_LETTERS[3], CFG_D, D_STARTS, D_CURVES, D_COLORS, D_WIDTHS, D_THRESHOLD, D_GRID_ROWS)

layout = column(row(pA, pB), row(pC, pD))
open("out.html", "w").write(file_html(layout, INLINE))
